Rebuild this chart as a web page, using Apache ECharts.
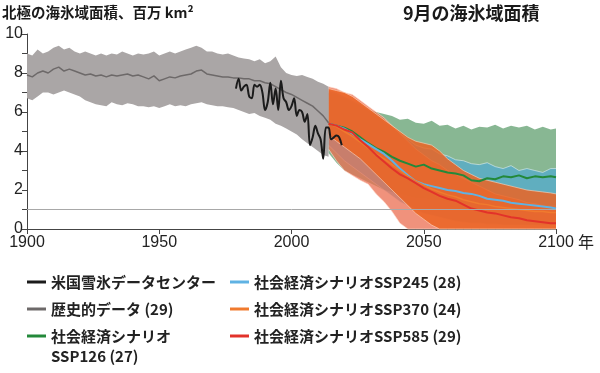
<!DOCTYPE html>
<html><head><meta charset="utf-8">
<script src="https://cdn.jsdelivr.net/npm/echarts@6/dist/echarts.min.js"></script>
<style>html,body{margin:0;padding:0;background:#fff}#c{width:600px;height:373px}</style>
</head><body><div id="c"></div>
<script>
// ---------- data ----------
const xTicks = [1900, 1950, 2000, 2050, 2100];

const histYears = [1900,1902,1904,1906,1908,1910,1912,1914,1916,1918,1920,1922,1924,1926,1928,1930,1932,1934,1936,1938,1940,1942,1944,1946,1948,1950,1952,1954,1956,1958,1960,1962,1964,1966,1968,1970,1972,1974,1976,1978,1980,1982,1984,1986,1988,1990,1992,1994,1996,1998,2000,2002,2004,2006,2008,2010,2012,2014];
const histMean = [7.9,7.8,8.0,8.1,8.0,8.2,8.3,8.1,8.2,8.1,8.0,7.9,7.95,7.85,7.9,7.8,7.9,7.85,7.9,7.95,7.85,7.9,7.8,7.7,7.85,7.6,7.7,7.8,7.75,7.85,7.9,7.95,8.1,8.15,7.95,7.9,7.85,7.8,7.8,7.75,7.75,7.7,7.7,7.6,7.6,7.5,7.45,7.3,7.15,7.0,6.9,6.75,6.6,6.45,6.3,6.05,5.8,5.45];
const histUpper = [9.0,8.9,9.2,9.0,9.1,9.3,9.4,9.2,9.3,9.1,9.0,9.1,9.0,8.9,9.0,8.9,9.0,8.95,9.1,9.0,8.9,9.0,8.95,9.0,9.1,8.9,9.0,9.1,9.0,9.1,9.2,9.3,9.4,9.3,9.1,9.1,9.0,8.95,9.0,8.9,8.8,8.75,8.7,8.6,8.7,8.5,8.6,8.85,8.3,8.0,7.9,7.85,7.9,7.8,7.7,7.55,7.45,7.3];
const histLower = [6.7,6.6,6.8,7.0,7.0,6.9,7.0,7.1,7.0,6.9,6.8,6.6,6.5,6.4,6.35,6.3,6.5,6.4,6.35,6.45,6.4,6.3,6.3,6.25,6.3,6.2,6.3,6.4,6.3,6.35,6.3,6.4,6.45,6.5,6.4,6.35,6.3,6.3,6.25,6.2,6.1,6.0,5.9,5.95,5.8,5.7,5.6,5.4,5.3,5.15,5.0,4.85,4.6,4.4,4.2,4.0,3.8,3.7];

const nsidcYears = [1979,1980,1981,1982,1983,1984,1985,1986,1987,1988,1989,1990,1991,1992,1993,1994,1995,1996,1997,1998,1999,2000,2001,2002,2003,2004,2005,2006,2007,2008,2009,2010,2011,2012,2013,2014,2015,2016,2017,2018,2019];
const nsidcValues = [7.2,7.7,7.1,7.3,7.4,6.8,6.7,7.4,7.3,7.4,7.0,6.1,6.5,7.5,6.4,7.2,6.1,7.6,6.7,6.5,6.1,6.3,6.7,5.8,6.1,6.0,5.5,5.9,4.3,4.7,5.3,4.9,4.6,3.6,5.2,5.2,4.6,4.7,4.8,4.7,4.3];

const projYears = [2014,2017,2020,2023,2026,2029,2032,2035,2038,2041,2044,2047,2050,2053,2056,2059,2062,2065,2068,2071,2074,2077,2080,2083,2086,2089,2092,2095,2098,2100];

const ssp126Mean  = [5.4,5.3,5.2,5.0,4.7,4.4,4.15,3.95,3.7,3.5,3.35,3.2,3.3,3.1,3.0,2.9,2.85,2.75,2.5,2.45,2.6,2.55,2.7,2.65,2.75,2.6,2.7,2.65,2.7,2.65];
const ssp126Upper = [7.0,6.9,6.7,6.5,6.3,6.1,6.0,5.9,5.8,5.6,5.65,5.45,5.4,5.55,5.3,5.35,5.15,5.3,5.1,5.25,5.2,5.35,5.15,5.3,5.2,5.3,5.1,5.25,5.1,5.15];
const ssp126Lower = [3.9,3.4,3.0,2.8,2.6,2.4,2.2,2.0,1.9,1.8,1.7,1.6,1.6,1.5,1.5,1.4,1.4,1.3,1.3,1.2,1.3,1.2,1.25,1.2,1.3,1.2,1.25,1.2,1.2,1.2];

const ssp245Mean  = [5.4,5.3,5.15,4.9,4.6,4.35,4.1,3.85,3.5,3.1,2.75,2.45,2.3,2.2,2.1,2.0,1.95,1.85,1.8,1.7,1.55,1.5,1.45,1.35,1.3,1.25,1.2,1.15,1.1,1.05];
const ssp245Upper = [7.1,7.0,6.8,6.6,6.4,6.1,5.8,5.5,5.2,4.9,4.6,4.3,4.15,4.1,3.85,3.75,3.55,3.5,3.35,3.3,3.4,3.2,3.1,3.25,3.0,3.1,3.0,2.9,3.1,3.1];
const ssp245Lower = [4.3,3.9,3.5,3.2,2.9,2.6,2.3,2.0,1.7,1.4,1.2,1.0,0.8,0.7,0.6,0.5,0.4,0.35,0.3,0.3,0.25,0.25,0.2,0.2,0.2,0.2,0.2,0.2,0.2,0.2];

const ssp370Mean  = [5.4,5.25,5.0,4.75,4.45,4.15,3.85,3.6,3.3,3.0,2.7,2.45,2.25,2.05,1.9,1.75,1.65,1.5,1.4,1.3,1.25,1.15,1.1,1.05,1.0,0.95,0.9,0.9,0.85,0.85];
const ssp370Upper = [7.2,7.1,7.0,6.8,6.5,6.2,5.9,5.6,5.3,5.0,4.7,4.5,4.4,4.3,4.0,3.6,3.3,3.0,2.8,2.6,2.5,2.4,2.3,2.2,2.1,2.0,1.95,1.9,1.85,1.8];
const ssp370Lower = [4.8,4.5,4.2,3.9,3.6,3.2,2.8,2.4,2.0,1.6,1.2,0.8,0.5,0.2,0,0,0,0,0,0,0,0,0,0,0,0,0,0,0,0];

const ssp585Mean  = [5.4,5.3,5.1,4.95,4.55,4.2,3.8,3.45,3.1,2.8,2.6,2.35,2.1,1.9,1.7,1.55,1.45,1.25,1.05,0.95,0.85,0.8,0.7,0.6,0.55,0.45,0.4,0.35,0.3,0.3];
const ssp585Upper = [7.3,7.2,7.0,6.9,6.6,6.3,6.0,5.7,5.3,4.9,4.5,4.1,3.8,3.5,3.3,3.0,2.8,2.6,2.4,2.2,2.0,1.8,1.7,1.6,1.5,1.35,1.3,1.2,1.1,1.0];
const ssp585Lower = [4.1,3.5,3.0,2.75,2.5,2.3,1.8,1.4,0.9,0.3,0,0,0,0,0,0,0,0,0,0,0,0,0,0,0,0,0,0,0,0];

const names = {
  nsidc: '米国雪氷データセンター',
  hist: '歴史的データ (29)',
  s126: '社会経済シナリオSSP126 (27)',
  s245: '社会経済シナリオSSP245 (28)',
  s370: '社会経済シナリオSSP370 (24)',
  s585: '社会経済シナリオSSP585 (29)'
};

// ---------- helpers ----------
const pairs = (xs, ys) => xs.map((x, i) => [x, ys[i]]);

// Band drawn as one polygon through the cartesian coordinate system (api.coord)
function band(xs, up, lo, fill, edge) {
  return {
    type: 'custom', coordinateSystem: 'cartesian2d', silent: true, z: 1,
    data: xs.map((x, i) => [x, lo[i], up[i]]),
    encode: { x: 0, y: [1, 2] },
    renderItem: function (params, api) {
      if (params.dataIndex !== 0) return null;
      const top = xs.map((x, i) => api.coord([x, up[i]]));
      const bot = xs.map((x, i) => api.coord([x, lo[i]]));
      const children = [{ type: 'polygon', shape: { points: top.concat(bot.slice().reverse()) },
        style: { fill: fill, stroke: null } }];
      if (edge) {
        children.push({ type: 'polyline', shape: { points: top }, style: { stroke: edge, lineWidth: 1, fill: null } });
        children.push({ type: 'polyline', shape: { points: bot }, style: { stroke: edge, lineWidth: 1, fill: null } });
      }
      return { type: 'group', children };
    }
  };
}
function meanLine(name, xs, ys, color, width, extra) {
  return Object.assign({ type: 'line', name, data: pairs(xs, ys), showSymbol: false, symbol: 'none',
    itemStyle: { color }, lineStyle: { color, width }, silent: true, z: 3 }, extra || {});
}

const FONT_CJK = "'Noto Sans CJK JP', 'Noto Sans', sans-serif";
const FONT_NUM = "'Liberation Sans', Arial, sans-serif";

const series = [
  band(projYears, ssp126Upper, ssp126Lower, 'rgba(90,155,105,0.72)', null),
  band(projYears, ssp245Upper, ssp245Lower, 'rgba(80,170,210,0.70)', 'rgba(235,245,250,0.55)'),
  band(projYears, ssp585Upper, ssp585Lower, 'rgba(235,110,80,0.75)', 'rgba(255,225,210,0.6)'),
  band(projYears, ssp370Upper, ssp370Lower, 'rgba(235,100,35,0.85)', 'rgba(255,215,190,0.6)'),
  band(histYears, histUpper, histLower, 'rgb(170,166,166)', null),
  meanLine(names.hist, histYears, histMean, '#6d6969', 1.5),
  meanLine(names.s126, projYears, ssp126Mean, '#23893a', 2),
  meanLine(names.s245, projYears, ssp245Mean, '#5fb2e3', 2),
  meanLine(names.s370, projYears, ssp370Mean, '#f07a2e', 1.5),
  meanLine(names.s585, projYears, ssp585Mean, '#e2322a', 2),
  meanLine(names.nsidc, nsidcYears, nsidcValues, '#1b1b1b', 2, {
    smooth: 0.35, z: 4,
    markLine: { silent: true, symbol: 'none', label: { show: false }, animation: false,
      lineStyle: { color: '#a8a8a8', width: 1, type: 'solid' }, data: [{ yAxis: 1 }] }
  })
];

const legendCommon = {
  orient: 'vertical', icon: 'rect', itemWidth: 19, itemHeight: 3, itemGap: 9, padding: 0,
  selectedMode: false,
  textStyle: { fontSize: 15, fontWeight: 'bold', color: '#222', fontFamily: FONT_CJK, lineHeight: 18 }
};

const option = {
  animation: false,
  backgroundColor: '#fff',
  title: [
    { text: '北極の海氷域面積、百万 km²', left: 2, top: 5, padding: 0,
      textStyle: { fontSize: 14.5, fontWeight: 'bold', color: '#1a1a1a', fontFamily: FONT_CJK } },
    { text: '9月の海氷域面積', left: 403, top: 4, padding: 0,
      textStyle: { fontSize: 18, fontWeight: 'bold', color: '#1a1a1a', fontFamily: FONT_CJK } }
  ],
  grid: { left: 27, right: 44, top: 34, bottom: 144, containLabel: false, outerBoundsMode: 'none' },
  xAxis: {
    type: 'value', min: 1900, max: 2100, interval: 50,
    axisLine: { show: true, lineStyle: { color: '#444', width: 1 } },
    axisTick: { show: true, length: 5, lineStyle: { color: '#444' } },
    axisLabel: { fontSize: 16, color: '#222', fontFamily: FONT_NUM, margin: 6,
      formatter: v => (xTicks.indexOf(v) >= 0 ? String(v) : '') },
    splitLine: { show: false }
  },
  yAxis: {
    type: 'value', min: 0, max: 10, interval: 1,
    axisLine: { show: true, lineStyle: { color: '#444', width: 1 } },
    axisTick: { show: true, length: 5, lineStyle: { color: '#444' } },
    axisLabel: { fontSize: 16, color: '#222', fontFamily: FONT_NUM, margin: 4,
      formatter: v => (v % 2 === 0 ? String(v) : '') },
    splitLine: { show: false }
  },
  legend: [
    Object.assign({}, legendCommon, { left: 27, top: 273,
      data: [names.nsidc, names.hist, names.s126],
      formatter: n => (n === names.s126 ? '社会経済シナリオ' : n) }),
    Object.assign({}, legendCommon, { left: 230, top: 273,
      data: [names.s245, names.s370, names.s585] })
  ],
  graphic: [
    { type: 'text', left: 51, top: 349, silent: true,
      style: { text: 'SSP126 (27)', fontSize: 15, fontWeight: 'bold', fill: '#222', fontFamily: FONT_CJK } },
    { type: 'text', left: 578, top: 234, silent: true,
      style: { text: '年', fontSize: 16, fill: '#222', fontFamily: FONT_CJK } }
  ],
  series
};

const chart = echarts.init(document.getElementById('c'), null, { renderer: 'canvas' });
chart.setOption(option);
</script>
</body></html>
